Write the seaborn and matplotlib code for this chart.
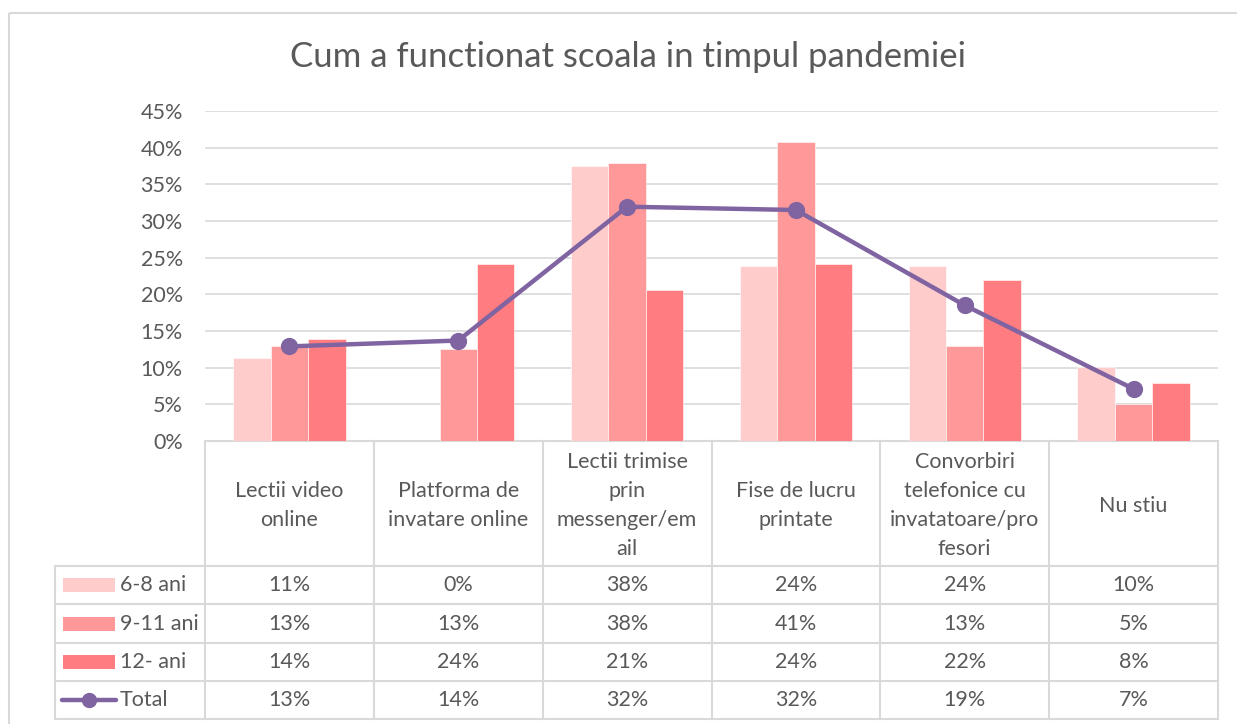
import numpy as np
import pandas as pd
import matplotlib
matplotlib.use("Agg")
import matplotlib.pyplot as plt
from matplotlib.patches import Rectangle
from matplotlib.lines import Line2D
from matplotlib.ticker import PercentFormatter
import seaborn as sns

# Data (percent values)
categories = ["Lectii video\nonline", "Platforma de\ninvatare online",
              "Lectii trimise\nprin\nmessenger/em\nail", "Fise de lucru\nprintate",
              "Convorbiri\ntelefonice cu\ninvatatoare/pro\nfesori", "Nu stiu"]
groups = ["6-8 ani", "9-11 ani", "12- ani"]
age_6_8 = [11.3, 0.0, 37.5, 23.8, 23.8, 10.1]
age_9_11 = [12.95, 12.6, 37.95, 40.8, 12.95, 5.05]
age_12 = [13.9, 24.1, 20.6, 24.1, 21.95, 7.95]
total = [12.9, 13.7, 31.95, 31.5, 18.5, 7.1]

colors = ["#FFCCCC", "#FF9999", "#FF7C80"]
line_color = "#8064A2"
text_color = "#595959"
grid_color = "#D9D9D9"
fs = 15.5

sns.set_theme(style="white")
plt.rcParams["font.family"] = ["Lato", "DejaVu Sans"]

W, H = 1237, 724
fig = plt.figure(figsize=(W / 100, H / 100), dpi=100)

def px_axes(x0, y0, x1, y1):
    return fig.add_axes([x0 / W, 1 - y1 / H, (x1 - x0) / W, (y1 - y0) / H])

# main plot area
ax = px_axes(205, 111, 1218, 441)
df = pd.DataFrame({
    "cat": np.tile(categories, 3),
    "group": np.repeat(groups, len(categories)),
    "val": np.concatenate([age_6_8, age_9_11, age_12]),
})
sns.barplot(data=df, x="cat", y="val", hue="group", hue_order=groups,
            palette=colors, saturation=1, width=0.665, gap=0,
            edgecolor="white", linewidth=0.4, legend=False, ax=ax, zorder=3)
sns.pointplot(x=categories, y=total, color=line_color, markers="o",
              linestyles="-", linewidth=3.2, markersize=10, ax=ax, zorder=5)

ax.set_xlim(-0.5, 5.5)
ax.set_ylim(0, 45)
ax.set_yticks(np.arange(0, 46, 5))
ax.yaxis.set_major_formatter(PercentFormatter(decimals=0))
ax.tick_params(axis="y", length=0, pad=16, labelsize=fs, labelcolor=text_color)
ax.set_xticks([])
ax.set_xlabel("")
ax.set_ylabel("")
ax.grid(axis="y", color=grid_color, linewidth=1.2, zorder=0)
ax.set_axisbelow(True)
for s in ax.spines.values():
    s.set_visible(False)
ax.patch.set_alpha(0)

# overlay in pixel coordinates: border, title, data table
ov = fig.add_axes([0, 0, 1, 1], zorder=-1)
ov.set_xlim(0, W)
ov.set_ylim(H, 0)
ov.axis("off")

ov.add_patch(Rectangle((9, 13), W + 10, H + 10, fill=False,
                       edgecolor=grid_color, linewidth=1.5))
ov.text(628, 57, "Cum a functionat scoala in timpul pandemiei", ha="center",
        va="center", fontsize=25, color=text_color)

x_left, x0, x1 = 55, 205, 1218
col_w = (x1 - x0) / len(categories)
rows_y = [441, 566, 604, 643, 681, 719]
lw = 1.5
# horizontal lines
ov.plot([x0, x1], [rows_y[0], rows_y[0]], color=grid_color, lw=lw)
for y in rows_y[1:]:
    ov.plot([x_left, x1], [y, y], color=grid_color, lw=lw)
# vertical lines
ov.plot([x_left, x_left], [rows_y[1], rows_y[-1]], color=grid_color, lw=lw)
for i in range(len(categories) + 1):
    x = x0 + i * col_w
    ov.plot([x, x], [rows_y[0], rows_y[-1]], color=grid_color, lw=lw)

# header cells
for i, cat in enumerate(categories):
    ov.text(x0 + (i + 0.5) * col_w, (rows_y[0] + rows_y[1]) / 2 + 2, cat,
            ha="center", va="center", fontsize=fs, color=text_color,
            linespacing=1.55)

# data rows
series = [age_6_8, age_9_11, age_12, total]
names = groups + ["Total"]
for r, (name, vals) in enumerate(zip(names, series)):
    yc = (rows_y[r + 1] + rows_y[r + 2]) / 2
    if r < 3:
        ov.add_patch(Rectangle((63, yc - 7), 52, 14, color=colors[r], lw=0))
    else:
        ov.add_line(Line2D([62, 116], [yc, yc], color=line_color, lw=3.2,
                           solid_capstyle="round"))
        ov.plot([89], [yc], "o", color=line_color, markersize=10)
    ov.text(120, yc, name, ha="left", va="center", fontsize=fs, color=text_color)
    for i, v in enumerate(vals):
        ov.text(x0 + (i + 0.5) * col_w, yc, f"{int(np.floor(v + 0.5))}%",
                ha="center", va="center", fontsize=fs, color=text_color)

fig.savefig("out.png", dpi=100)
